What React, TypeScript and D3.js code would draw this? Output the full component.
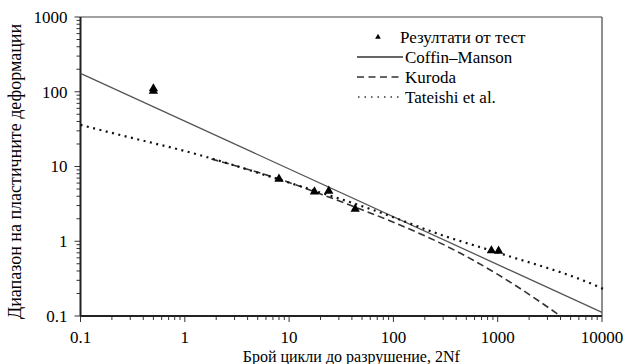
import React from 'react';
import * as d3 from 'd3';

const width = 627;
const height = 364;
const margin = { top: 17, right: 25, bottom: 48, left: 80.5 };

// test results
const testN = [0.5, 0.5, 8, 17.5, 24, 43, 870, 1020];
const testRange = [110, 102, 6.8, 4.6, 4.7, 2.7, 0.75, 0.74];

// Coffin-Manson (straight in log-log)
const coffinN = [0.1, 10000];
const coffinRange = [176, 0.112];

// Kuroda
const kurodaN = [1.8, 8, 20, 48, 100, 440, 1000, 1520, 4000];
const kurodaRange = [12.6, 6.8, 4.3, 2.7, 1.8, 0.69, 0.36, 0.25, 0.1];

// Tateishi et al.
const tateishiN = [0.1, 0.24, 1.37, 8, 64, 312, 1050, 10000, 11000];
const tateishiRange = [36, 26.4, 14.3, 6.7, 2.62, 1.17, 0.69, 0.234, 0.22];

const xTickLabels = ['0.1', '1', '10', '100', '1000', '10000'];
const yTickLabels = ['0.1', '1', '10', '100', '1000'];

const legendLabels = ['Резултати от тест', 'Coffin\u2013Manson', 'Kuroda', 'Tateishi et al.'];

const font = "'Liberation Serif', 'DejaVu Serif', serif";

const x = d3.scaleLog().domain([0.1, 10000]).range([margin.left, width - margin.right]);
const y = d3.scaleLog().domain([0.1, 1000]).range([height - margin.bottom, margin.top]);

const zip = (a: number[], b: number[]) => a.map((v, i) => [v, b[i]] as [number, number]);

const straight = d3.line<[number, number]>().x(d => x(d[0])).y(d => y(d[1]));
const smooth = d3
	.line<[number, number]>()
	.x(d => x(d[0]))
	.y(d => y(d[1]))
	.curve(d3.curveMonotoneX);

const tri = d3.symbol().type(d3.symbolTriangle).size(38)();
const triSmall = d3.symbol().type(d3.symbolTriangle).size(14)();

const isMajor = (t: number) => Math.abs(Math.log10(t) - Math.round(Math.log10(t))) < 1e-9;

export default function App() {
	const x0 = margin.left;
	const x1 = width - margin.right;
	const y0 = height - margin.bottom;
	const y1 = margin.top;

	return (
		<div style={{ position: 'absolute', left: 0, top: 0 }}>
			<svg width={width} height={height} style={{ display: 'block' }}>
				<rect width={width} height={height} fill="#fff" />
				{/* frame */}
				<line x1={x0} x2={x1} y1={y1} y2={y1} stroke="#444" strokeWidth={1.2} />
				<line x1={x1} x2={x1} y1={y1} y2={y0} stroke="#444" strokeWidth={1.2} />

				{/* ticks */}
				{x.ticks().map((t, i) => (
					<line
						key={'xt' + i}
						x1={x(t)}
						x2={x(t)}
						y1={y0}
						y2={y0 + (isMajor(t) ? 6 : 4)}
						stroke="#333"
						strokeWidth={1}
					/>
				))}
				{y.ticks().map((t, i) => (
					<line
						key={'yt' + i}
						x1={x0 - (isMajor(t) ? 6 : 4)}
						x2={x0}
						y1={y(t)}
						y2={y(t)}
						stroke="#333"
						strokeWidth={1}
					/>
				))}

				{/* axes */}
				<line x1={x0} x2={x1} y1={y0} y2={y0} stroke="#222" strokeWidth={2} />
				<line x1={x0} x2={x0} y1={y1} y2={y0} stroke="#222" strokeWidth={2} />

				{/* series */}
				<path d={straight(zip(coffinN, coffinRange)) || ''} fill="none" stroke="#555" strokeWidth={1.3} />
				<path
					d={smooth(zip(kurodaN, kurodaRange)) || ''}
					fill="none"
					stroke="#333"
					strokeWidth={1.6}
					strokeDasharray="7,4"
				/>
				<path
					d={smooth(zip(tateishiN, tateishiRange)) || ''}
					fill="none"
					stroke="#111"
					strokeWidth={2.2}
					strokeDasharray="2,4.5"
				/>
				{testN.map((n, i) => (
					<path key={'p' + i} d={tri || ''} transform={`translate(${x(n)},${y(testRange[i])})`} fill="#000" />
				))}

				<g style={{ fontFamily: font }} fill="#000">
					{xTickLabels.map(l => (
						<text key={'xl' + l} x={x(+l)} y={y0 + 27} textAnchor="middle" fontSize={17}>
							{l}
						</text>
					))}
					{yTickLabels.map(l => (
						<text key={'yl' + l} x={x0 - 13} y={y(+l)} dy="0.35em" textAnchor="end" fontSize={17}>
							{l}
						</text>
					))}

					{/* legend */}
					<g fontSize={17}>
						<path d={triSmall || ''} transform="translate(378,37)" fill="#000" />
						<text x={400} y={37} dy="0.35em">{legendLabels[0]}</text>
						<line x1={357} x2={403} y1={57} y2={57} stroke="#333" strokeWidth={1.3} />
						<text x={405} y={57} dy="0.35em">{legendLabels[1]}</text>
						<line x1={357} x2={403} y1={77} y2={77} stroke="#333" strokeWidth={1.3} strokeDasharray="7,4.5" />
						<text x={405} y={77} dy="0.35em">{legendLabels[2]}</text>
						<line x1={358} x2={403} y1={97} y2={97} stroke="#333" strokeWidth={1.5} strokeDasharray="1.5,5" />
						<text x={405} y={97} dy="0.35em">{legendLabels[3]}</text>
					</g>

					{/* axis titles */}
					<text x={(x0 + x1) / 2 + 10} y={362} textAnchor="middle" fontSize={16}>
						Брой цикли до разрушение, 2Nf
					</text>
					<text
						transform={`translate(21,${(y0 + y1) / 2 + 5}) rotate(-90)`}
						textAnchor="middle"
						fontSize={18}
					>
						Диапазон на пластичните деформации
					</text>
				</g>
			</svg>
		</div>
	);
}
